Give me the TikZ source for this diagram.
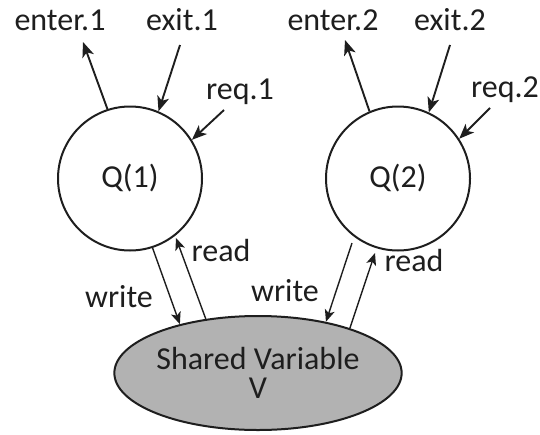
\documentclass[tikz,border=0pt]{standalone}
\usepackage{fontspec}
\setmainfont{Carlito}
\usetikzlibrary{arrows.meta,shapes.geometric}
\definecolor{ink}{HTML}{1E1E1E}
\tikzset{
  proc/.style={circle, draw=ink, line width=2pt, minimum size=144pt, inner sep=0pt, text=ink},
  shared/.style={ellipse, draw=ink, line width=2pt, fill=gray!60, minimum width=272pt, minimum height=114pt, inner sep=0pt, align=center, text=ink},
  lbl/.style={text=ink, inner sep=0pt},
  sig/.style={draw=ink, line width=1.9pt, -{Stealth[length=15pt,width=12pt,inset=4pt]}},
  rw/.style={draw=ink, line width=1.4pt, -{Stealth[length=12pt,width=10pt,inset=3pt]}}
}
\begin{document}
\begin{tikzpicture}[x=1pt, y=-1pt, font=\fontsize{32}{34}\selectfont]
\useasboundingbox (0,0) rectangle (540,434);

% processes and the shared variable
\node[proc] (q1) at (130,178.5) {Q(1)};
\node[proc] (q2) at (398,178.5) {Q(2)};
\node[shared] (sv) at (258,373) {Shared Variable\\[-5pt]V};

% signal labels
\node[lbl] (en1) at (60,20) {enter.1};
\node[lbl] (ex1) at (182,20) {exit.1};
\node[lbl] (rq1) at (240,92) {req.1};
\node[lbl] (en2) at (333,20) {enter.2};
\node[lbl] (ex2) at (450,20) {exit.2};
\node[lbl] (rq2) at (505,90) {req.2};

% free ends of the signal arrows
\coordinate (en1t) at (83,42);
\coordinate (ex1s) at (180,45);
\coordinate (rq1s) at (224,110);
\coordinate (en2t) at (345,40);
\coordinate (ex2s) at (450,45);
\coordinate (rq2s) at (490,108);

\draw[sig] (q1.108.8) -- (en1t);
\draw[sig] (ex1s) -- (q1.67.6);
\draw[sig] (rq1s) -- (q1.32.7);
\draw[sig] (q2.113.4) -- (en2t);
\draw[sig] (ex2s) -- (q2.65.4);
\draw[sig] (rq2s) -- (q2.33.6);

% read / write access to the shared variable
\coordinate (w2s) at (352,243);
\coordinate (r1t) at (176,238);
\coordinate (r2t) at (375,253);
\draw[rw] (q1.-72.4) -- (sv.148.4);
\draw[rw] (sv.134.5) -- (r1t);
\draw[rw] (w2s) -- (sv.37.3);
\draw[rw] (sv.26.6) -- (r2t);

\node[lbl] (w1) at (119,297) {write};
\node[lbl] (r1) at (221,251) {read};
\node[lbl] (w2) at (285,291) {write};
\node[lbl] (r2) at (414,261) {read};
\end{tikzpicture}
\end{document}
